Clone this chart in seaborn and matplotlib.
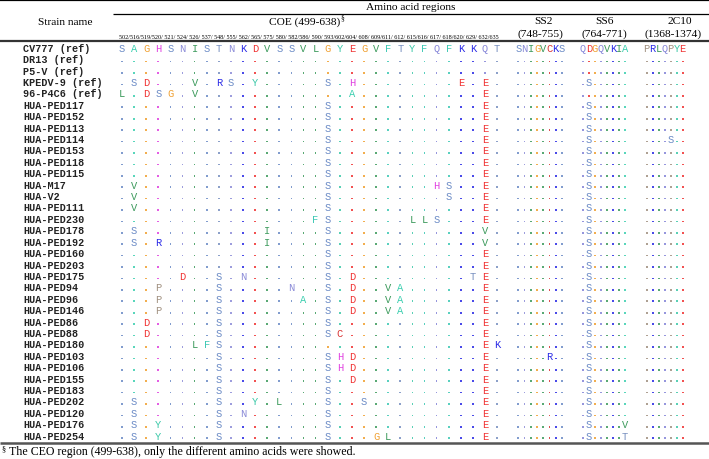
import matplotlib
matplotlib.use("Agg")
import matplotlib.pyplot as plt
import matplotlib.transforms as mtransforms
import seaborn as sns
import pandas as pd

# ---------------- data ----------------
strains = ["CV777 (ref)", "DR13 (ref)", "P5-V (ref)", "KPEDV-9 (ref)", "96-P4C6 (ref)",
           "HUA-PED117", "HUA-PED152", "HUA-PED113", "HUA-PED114", "HUA-PED153",
           "HUA-PED118", "HUA-PED115", "HUA-M17", "HUA-V2", "HUA-PED111",
           "HUA-PED230", "HUA-PED178", "HUA-PED192", "HUA-PED160", "HUA-PED203",
           "HUA-PED175", "HUA-PED94", "HUA-PED96", "HUA-PED146", "HUA-PED86",
           "HUA-PED88", "HUA-PED180", "HUA-PED103", "HUA-PED106", "HUA-PED155",
           "HUA-PED183", "HUA-PED202", "HUA-PED120", "HUA-PED176", "HUA-PED254"]

coe_positions = [502, 516, 519, 520, 521, 524, 526, 537, 548, 555, 562, 565, 575, 580, 582, 586,
                 590, 593, 602, 604, 608, 609, 611, 612, 615, 616, 617, 618, 620, 629, 632, 635]
coe_ref = list("SAGHSNISTNKDVSSVLGYEGVFTYFQFKKQT")
ss2_positions = [748, 749, 750, 751, 752, 753, 754, 755]
ss2_ref = list("SNIGVCKS")
ss6_positions = [764, 765, 766, 767, 768, 769, 770, 771]
ss6_ref = list("QDGQVKIA")
c10_positions = [1368, 1369, 1370, 1371, 1372, 1373, 1374]
c10_ref = list("PRLQPYE")

# substitutions relative to CV777 ("position+amino acid")
coe_mutations = [
    "", "", "",
    "516S 519D 526V 548R 555S 565Y 593S 604H 620E 632E",
    "502L 519D 520S 521G 526V 604A 632E",
    "593S 632E", "593S 632E", "593S 632E", "593S 632E", "593S 632E",
    "593S 632E", "593S 632E",
    "516V 593S 617H 618S 632E",
    "516V 593S 618S 632E",
    "516V 593S 632E",
    "590F 593S 615L 616L 617S 632E",
    "516S 575I 593S 632V",
    "516S 520R 575I 593S 632V",
    "593S 632E", "593S 632E",
    "524D 548S 562N 593S 604D 629T 632E",
    "520P 548S 582N 593S 604D 611V 612A 632E",
    "520P 548S 586A 593S 604D 611V 612A 632E",
    "520P 548S 593S 604D 611V 612A 632E",
    "519D 548S 593S 632E",
    "519D 548S 593S 602C 632E",
    "526L 537F 548S 632E 635K",
    "548S 593S 602H 604D 632E",
    "548S 593S 602H 604D 632E",
    "548S 593S 604D 632E",
    "548S 593S 632E",
    "516S 548S 565Y 580L 593S 608S 632E",
    "516S 548S 562N 593S 632E",
    "516S 520Y 548S 593S 632E",
    "516S 520Y 548S 593S 609G 611L 632E",
]
ss2_mutations = ["", "", "", "", "", "", "", "", "", "", "", "", "", "", "", "", "", "",
                 "", "", "", "", "", "", "", "", "", "753R", "", "", "", "", "", "", ""]
ss6_mutations = ["", "", "", "765S", ""] + ["765S"] * 28 + ["765S 771V", "765S 771T"]
c10_mutations = ["", "", "", "", "", "", "", "", "1372S", "", "", "", "", "", "", "", "", "",
                 "", "", "", "", "", "", "", "", "", "", "", "", "", "", "", "", ""]

aa_colors = {
    "S": "#6b8bc6", "T": "#7890c0", "A": "#3ccfb0", "Y": "#3cc8a8", "F": "#3cc8b4",
    "G": "#f0a030", "H": "#e040e0", "N": "#8c8cd8", "Q": "#8484d8", "I": "#3c9a5c",
    "V": "#3c9a5c", "L": "#3c9a5c", "K": "#2a2ae6", "R": "#2a2ae6", "D": "#f03232",
    "E": "#f03232", "C": "#d83030", "P": "#a09080",
}

# ---------------- build table ----------------
def build(positions, ref, mutations):
    recs = []
    for r, (name, mut) in enumerate(zip(strains, mutations)):
        subs = {int(m[:-1]): m[-1] for m in mut.split()}
        for c, (p, a) in enumerate(zip(positions, ref)):
            if r == 0:
                recs.append((r, c, a, a, "letter"))
            elif p in subs:
                recs.append((r, c, a, subs[p], "letter"))
            else:
                recs.append((r, c, a, ".", "dot"))
    return pd.DataFrame(recs, columns=["row", "col", "ref", "aa", "kind"])

blocks = [
    (build(coe_positions, coe_ref, coe_mutations), 115.95, 503.15),
    (build(ss2_positions, ss2_ref, ss2_mutations), 515.2, 565.1),
    (build(ss6_positions, ss6_ref, ss6_mutations), 579.7, 628.0),
    (build(c10_positions, c10_ref, c10_mutations), 643.7, 685.7),
]

W, H = 709, 460
fig = plt.figure(figsize=(W / 100, H / 100), dpi=100)
ax0 = fig.add_axes([0, 0, 1, 1])
ax0.set_xlim(0, W)
ax0.set_ylim(H, 0)
ax0.axis("off")

serif = "Liberation Serif"
mono = "Liberation Mono"
fs = 7.5
ytop, ybot = 43.0, 442.4
nrow = len(strains)

axes = []
for df, x0, x1 in blocks:
    ax = fig.add_axes([x0 / W, 1 - ybot / H, (x1 - x0) / W, (ybot - ytop) / H])
    ax.set_xlim(-0.5, df["col"].max() + 0.5)
    ax.set_ylim(nrow - 0.5, -0.5)
    ax.axis("off")
    dots = df[df["kind"] == "dot"].copy()
    dots["ydot"] = dots["row"] + 0.22
    sns.scatterplot(data=dots, x="col", y="ydot", hue="ref", palette=aa_colors,
                    marker="s", s=1.4, linewidth=0, alpha=0.85, legend=False, ax=ax)
    for _, rr in df[df["kind"] == "letter"].iterrows():
        ax.text(rr["col"], rr["row"], rr["aa"], color=aa_colors[rr["aa"]],
                ha="center", va="center", family=mono, fontsize=fs)
    axes.append(ax)

# strain names
tr = mtransforms.blended_transform_factory(ax0.transData, axes[0].transData)
for i, name in enumerate(strains):
    ax0.text(23, i, name, transform=tr, ha="left", va="center", family=mono,
             fontweight="bold", fontsize=7.3, color="#222222")

# rules
ax0.hlines(1.0, 0, W, color="black", lw=1.6)
ax0.hlines(14.7, 113, W, color="black", lw=0.9)
ax0.hlines(42.2, 0, W, color="#333333", lw=1.6)
ax0.hlines(443.6, 0, W, color="#555555", lw=1.8)

# header
ax0.text(411, 7.8, "Amino acid regions", ha="center", va="center", family=serif, fontsize=8.2)
ax0.text(65, 22.5, "Strain name", ha="center", va="center", family=serif, fontsize=8.2)
ax0.text(340, 22.0, "COE (499-638)", ha="right", va="center", family=serif, fontsize=8.2)
ax0.text(340.5, 18.5, "§", ha="left", va="center", family=serif, fontsize=5.5)
ax0.text(543, 22.0, "SS2", ha="center", va="center", family=serif, fontsize=8.2)
ax0.text(540, 34.0, "(748-755)", ha="center", va="center", family=serif, fontsize=8.2)
ax0.text(605, 22.0, "SS6", ha="center", va="center", family=serif, fontsize=8.2)
ax0.text(604, 34.0, "(764-771)", ha="center", va="center", family=serif, fontsize=8.2)
ax0.text(680, 22.0, "2C10", ha="center", va="center", family=serif, fontsize=8.2)
ax0.text(673, 34.0, "(1368-1374)", ha="center", va="center", family=serif, fontsize=8.2)

pos_label = ("502/516/519/520/ 521/ 524/ 526/ 537/ 548/ 555/ 562/ 565/ 575/ 580/ 582/586/ "
             "590/ 593/602/604/ 608/ 609/611/ 612/ 615/616/ 617/ 618/620/ 629/ 632/635")
ax0.text(309, 37.8, pos_label, ha="center", va="center", family=serif, fontsize=4.4)

# footnote
ax0.text(1, 449.5, "§", ha="left", va="center", family=serif, fontsize=6)
ax0.text(9, 452.5, "The CEO region (499-638), only the different amino acids were showed.",
         ha="left", va="center", family=serif, fontsize=8.6)

fig.savefig("out.png", dpi=100)
